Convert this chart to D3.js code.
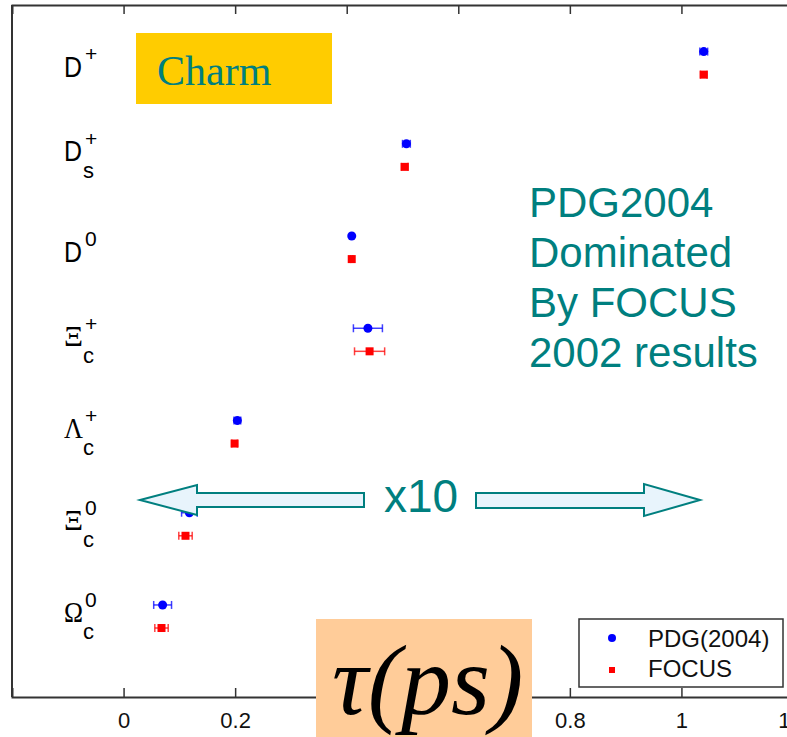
<!DOCTYPE html>
<html>
<head>
<meta charset="utf-8">
<script src="https://d3js.org/d3.v7.min.js"></script>
<style>
  html, body { margin: 0; padding: 0; background: #fff; }
</style>
</head>
<body>
<svg width="787" height="737"></svg>
<script>
// particles, top to bottom
var mainSym = ["D", "D", "D", "\u039E", "\u039B", "\u039E", "\u03A9"];
var supSym  = ["+", "+", "0", "+", "+", "0", "0"];
var subSym  = ["", "s", "", "c", "c", "c", "c"];

// lifetimes (ps) and errors
var pdgTau   = [1.040, 0.507, 0.409, 0.438, 0.204, 0.118, 0.070];
var pdgErr   = [0.007, 0.007, 0.002, 0.026, 0.006, 0.014, 0.016];
var focusTau = [1.040, 0.504, 0.409, 0.441, 0.199, 0.111, 0.068];
var focusErr = [0.006, 0.006, 0.002, 0.027, 0.005, 0.012, 0.012];

var xTicks = [0, 0.2, 0.4, 0.6, 0.8, 1, 1.2];
var seriesNames = ["PDG(2004)", "FOCUS"];
var noteLines = ["PDG2004", "Dominated", "By FOCUS", "2002 results"];

var teal = "#007f7f";
var svg = d3.select("svg");

var x = d3.scaleLinear().domain([-0.2, 1.2]).range([12, 793]);
var y = d3.scaleLinear().domain([0.127, 7.63]).range([697, 5]);
var n = mainSym.length;
function rowPos(i) { return n - i; }

var g = svg.append("g");

// frame: left, top and bottom
g.append("line").attr("x1", 12).attr("x2", 12).attr("y1", 5).attr("y2", 697)
  .attr("stroke", "#333").attr("stroke-width", 2);

var topAx = g.append("g").attr("transform", "translate(0,5)")
  .call(d3.axisTop(x).tickValues(xTicks).tickSize(-9).tickFormat(""));
var botAx = g.append("g").attr("transform", "translate(0,697)")
  .call(d3.axisBottom(x).tickValues(xTicks).tickSize(-9).tickPadding(15)
    .tickFormat(function(d) { return String(d); }));
[topAx, botAx].forEach(function(a) {
  a.select(".domain").attr("stroke", "#333").attr("stroke-width", 2);
  a.selectAll(".tick line").attr("stroke", "#333").attr("stroke-width", 1.5);
  a.selectAll("text").attr("font-family", "Liberation Sans, Arial, sans-serif")
    .attr("font-size", 22).attr("fill", "#111");
});

// row labels
mainSym.forEach(function(m, i) {
  var c = y(rowPos(i));
  var hasSub = subSym[i] !== "";
  var greek = m !== "D";
  g.append("text")
    .attr("x", 64).attr("y", c + (hasSub ? 6 : 14))
    .attr("font-family", greek ? "Liberation Serif, Times New Roman, serif" : "Liberation Sans, Arial, sans-serif")
    .attr("font-size", 30).attr("fill", "#000")
    .attr("textLength", greek ? 19 : 18).attr("lengthAdjust", "spacingAndGlyphs")
    .text(m);
  g.append("text")
    .attr("x", 85).attr("y", c + (hasSub ? -9 : -2))
    .attr("font-family", "Liberation Sans, Arial, sans-serif")
    .attr("font-size", 21).attr("fill", "#000")
    .text(supSym[i]);
  if (hasSub) {
    g.append("text")
      .attr("x", 83).attr("y", c + 23)
      .attr("font-family", "Liberation Sans, Arial, sans-serif")
      .attr("font-size", 22).attr("fill", "#000")
      .text(subSym[i]);
  }
});

// data points with horizontal error bars
var series = [
  {tau: pdgTau, err: pdgErr, off: 0.125, color: "#0000ff", shape: "circle"},
  {tau: focusTau, err: focusErr, off: -0.125, color: "#ff0000", shape: "square"}
];
series.forEach(function(s) {
  var pts = s.tau.map(function(t, i) { return {t: t, e: s.err[i], yy: y(rowPos(i) + s.off)}; });
  var grp = g.append("g");
  var eb = grp.selectAll("g.eb").data(pts).enter().append("g")
    .attr("stroke", s.color).attr("stroke-width", 1.5).attr("stroke-opacity", 0.75);
  eb.append("line")
    .attr("x1", function(d) { return x(d.t - d.e); }).attr("x2", function(d) { return x(d.t + d.e); })
    .attr("y1", function(d) { return d.yy; }).attr("y2", function(d) { return d.yy; });
  eb.append("line")
    .attr("x1", function(d) { return x(d.t - d.e); }).attr("x2", function(d) { return x(d.t - d.e); })
    .attr("y1", function(d) { return d.yy - 4; }).attr("y2", function(d) { return d.yy + 4; });
  eb.append("line")
    .attr("x1", function(d) { return x(d.t + d.e); }).attr("x2", function(d) { return x(d.t + d.e); })
    .attr("y1", function(d) { return d.yy - 4; }).attr("y2", function(d) { return d.yy + 4; });
  if (s.shape === "circle") {
    grp.selectAll("circle").data(pts).enter().append("circle")
      .attr("cx", function(d) { return x(d.t); }).attr("cy", function(d) { return d.yy; })
      .attr("r", 4.5).attr("fill", s.color);
  } else {
    grp.selectAll("rect").data(pts).enter().append("rect")
      .attr("x", function(d) { return x(d.t) - 4; }).attr("y", function(d) { return d.yy - 4; })
      .attr("width", 8).attr("height", 8).attr("fill", s.color);
  }
});

// legend
var lg = svg.append("g");
lg.append("rect").attr("x", 579).attr("y", 619).attr("width", 204).attr("height", 68)
  .attr("fill", "#fff").attr("stroke", "#333").attr("stroke-width", 1.5);
seriesNames.forEach(function(name, i) {
  var ly = 640 + i * 30;
  if (i === 0) {
    lg.append("circle").attr("cx", 612).attr("cy", ly - 2).attr("r", 4).attr("fill", "#0000ff");
  } else {
    lg.append("rect").attr("x", 609).attr("y", ly - 3).attr("width", 6).attr("height", 6).attr("fill", "#ff0000");
  }
  lg.append("text").attr("x", 648).attr("y", ly + 7)
    .attr("font-family", "Liberation Sans, Arial, sans-serif").attr("font-size", 24)
    .attr("fill", "#111").text(name);
});

// "Charm" label
svg.append("rect").attr("x", 136).attr("y", 33).attr("width", 196).attr("height", 71).attr("fill", "#ffcc00");
svg.append("text").attr("x", 157).attr("y", 85)
  .attr("font-family", "Liberation Serif, Times New Roman, serif").attr("font-size", 42)
  .attr("fill", teal).text("Charm");

// note
noteLines.forEach(function(t, i) {
  svg.append("text").attr("x", 529).attr("y", 217 + i * 50)
    .attr("font-family", "Liberation Sans, Arial, sans-serif").attr("font-size", 42)
    .attr("fill", teal).text(t);
});

// x10 arrows
var arrowFill = "#e8f4fc";
svg.append("path")
  .attr("d", "M140,500 L197,485 L197,493 L364,493 L364,507 L197,507 L197,515 Z")
  .attr("fill", arrowFill).attr("stroke", teal).attr("stroke-width", 2);
svg.append("path")
  .attr("d", "M700,500 L644,484 L644,493 L476,493 L476,508 L644,508 L644,516 Z")
  .attr("fill", arrowFill).attr("stroke", teal).attr("stroke-width", 2);
svg.append("text").attr("x", 384).attr("y", 512)
  .attr("font-family", "Liberation Sans, Arial, sans-serif").attr("font-size", 46)
  .attr("fill", teal).text("x10");

// tau(ps) axis title
svg.append("rect").attr("x", 316).attr("y", 619).attr("width", 216).attr("height", 118).attr("fill", "#ffcc99");
svg.append("text").attr("x", 332).attr("y", 714)
  .attr("font-family", "Liberation Serif, Times New Roman, serif").attr("font-style", "italic")
  .attr("font-size", 100).attr("fill", "#000").text("\u03C4(ps)");
</script>
</body>
</html>
